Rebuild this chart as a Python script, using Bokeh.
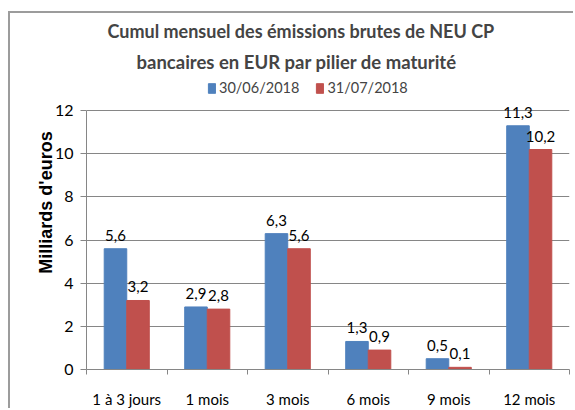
from bokeh.plotting import figure
from bokeh.models import (ColumnDataSource, FixedTicker, Title, Legend, LegendItem,
                          Range1d, LinearAxis)
from bokeh.embed import file_html
from bokeh.resources import INLINE

categories = ["1 à 3 jours", "1 mois", "3 mois", "6 mois", "9 mois", "12 mois"]
series_names = ["30/06/2018", "31/07/2018"]
values_jun = [5.6, 2.9, 6.3, 1.3, 0.5, 11.3]
values_jul = [3.2, 2.8, 5.6, 0.9, 0.1, 10.2]
y_ticks = [0, 2, 4, 6, 8, 10, 12]

BLUE = "#4F81BD"
RED = "#C0504D"
GRID = "#868686"
FONT = "Lato"

bw = 0.28
centers = [i + 0.5 for i in range(len(categories))]

def fmt(v):
    return f"{v:.1f}".replace(".", ",")

src_a = ColumnDataSource(dict(x=[c - bw / 2 for c in centers], top=values_jun,
                              lab=[fmt(v) for v in values_jun]))
src_b = ColumnDataSource(dict(x=[c + bw / 2 for c in centers], top=values_jul,
                              lab=[fmt(v) for v in values_jul]))

p = figure(width=565, height=397, output_backend="svg", toolbar_location=None,
           x_range=Range1d(0, len(categories)), y_range=Range1d(0, 13.4),
           min_border_left=76, min_border_right=6, min_border_bottom=40,
           min_border_top=67)
p.margin = (11, 0, 0, 8)
p.styles = {"border-top": "2px solid #9c9c9c", "border-left": "2px solid #9c9c9c"}
p.outline_line_color = None
p.background_fill_color = "white"

ra = p.vbar(x="x", top="top", width=bw, source=src_a, fill_color=BLUE,
            line_color=BLUE)
rb = p.vbar(x="x", top="top", width=bw, source=src_b, fill_color=RED,
            line_color=RED)

for src in (src_a, src_b):
    p.text(x="x", y="top", text="lab", source=src, text_align="center",
           text_baseline="bottom", y_offset=-8, text_font_size="15px",
           text_font={"value": FONT}, text_color="black")

# main y axis
p.yaxis.ticker = FixedTicker(ticks=y_ticks)
p.yaxis.bounds = (0, 12)
p.yaxis.axis_line_color = GRID
p.yaxis.major_tick_line_color = GRID
p.yaxis.major_tick_out = 6
p.yaxis.major_tick_in = 0
p.yaxis.minor_tick_line_color = None
p.yaxis.major_label_text_font = FONT
p.yaxis.major_label_text_font_size = "16px"
p.yaxis.major_label_text_color = "black"
p.yaxis.major_label_standoff = 7

# extra axis carrying only the title (leading no-break spaces lift it up)
title_axis = LinearAxis(ticker=FixedTicker(ticks=[]),
                        axis_label="\u00a0" * 10 + "Milliards  d'euros",
                        axis_label_text_font="Liberation Sans",
                        axis_label_text_font_style="bold",
                        axis_label_text_font_size="18px",
                        axis_label_text_color="black",
                        axis_label_standoff=-4,
                        axis_line_color=None, major_tick_line_color=None,
                        minor_tick_line_color=None)
p.add_layout(title_axis, "left")

p.xaxis.ticker = FixedTicker(ticks=centers, minor_ticks=list(range(len(categories) + 1)))
p.xaxis.major_label_overrides = {c: name for c, name in zip(centers, categories)}
p.xaxis.major_tick_line_color = None
p.xaxis.minor_tick_line_color = GRID
p.xaxis.minor_tick_out = 5
p.xaxis.minor_tick_in = 0
p.xaxis.axis_line_color = GRID
p.xaxis.major_label_text_font = FONT
p.xaxis.major_label_text_font_size = "15px"
p.xaxis.major_label_text_color = "black"
p.xaxis.major_label_standoff = 14

p.xgrid.grid_line_color = None
p.ygrid.grid_line_color = GRID
p.ygrid.ticker = FixedTicker(ticks=y_ticks)

legend = Legend(items=[LegendItem(label=series_names[0], renderers=[ra]),
                       LegendItem(label=series_names[1], renderers=[rb])],
                orientation="horizontal", location=(121, 273),
                label_text_font=FONT, label_text_font_size="14.5px",
                glyph_width=9, glyph_height=12, spacing=16, padding=0,
                margin=0, border_line_color=None, background_fill_alpha=0,
                label_standoff=3, label_height=16)
p.add_layout(legend)

t2 = Title(text="bancaires en EUR par pilier de maturité", align="left",
           text_font=FONT, text_font_size="18.5px", text_font_style="bold",
           offset=50, standoff=15)
t1 = Title(text="Cumul mensuel des émissions brutes de NEU CP", align="left",
           text_font=FONT, text_font_size="18px", text_font_style="bold",
           offset=21, standoff=0)
p.add_layout(t2, "above")
p.add_layout(t1, "above")

open("out.html", "w").write(file_html(p, INLINE))
